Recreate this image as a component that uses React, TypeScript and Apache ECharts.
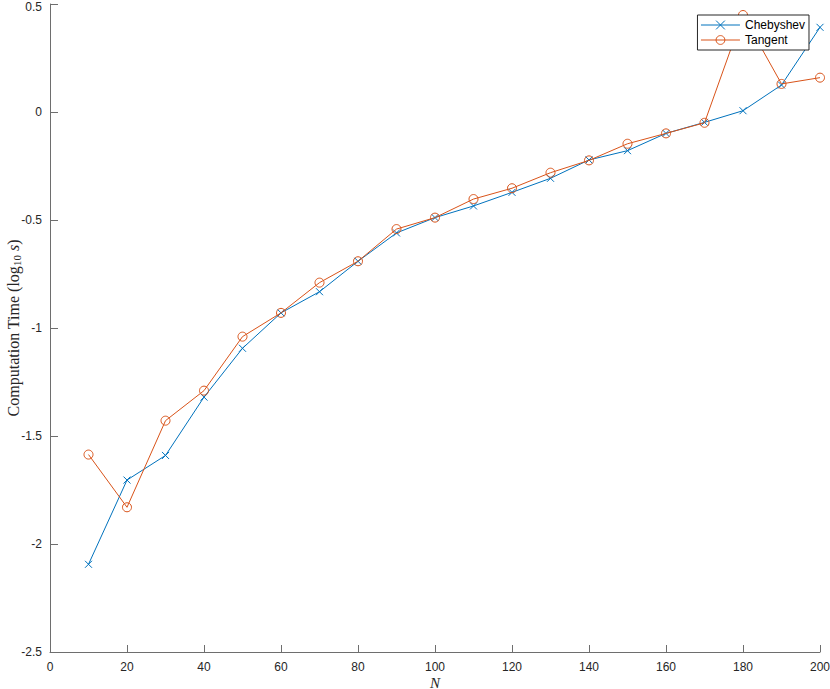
import React, { useEffect, useRef } from "react";
import * as echarts from "echarts";

const nValues = [10, 20, 30, 40, 50, 60, 70, 80, 90, 100, 110, 120, 130, 140, 150, 160, 170, 180, 190, 200];
const chebyshev = [-2.094, -1.704, -1.590, -1.320, -1.094, -0.930, -0.832, -0.691, -0.560, -0.489, -0.435, -0.372, -0.307, -0.222, -0.179, -0.099, -0.048, 0.006, 0.125, 0.392];
const tangent = [-1.586, -1.830, -1.429, -1.290, -1.040, -0.930, -0.790, -0.691, -0.542, -0.489, -0.403, -0.353, -0.281, -0.224, -0.147, -0.099, -0.050, 0.449, 0.130, 0.159];
const seriesNames = ["Chebyshev", "Tangent"];
const seriesColors = ["#0072BD", "#D95319"];
const yMin = -2.5;
const yMax = 0.5;

const X_SYMBOL = "path://M0,0L10,10M10,0L0,10";

export default function App() {
  const ref = useRef<HTMLDivElement>(null);
  useEffect(() => {
    if (!ref.current) return;
    const chart = echarts.init(ref.current, undefined, { renderer: "svg" });
    const axisColor = "#6e6e6e";
    const sans = "'Liberation Sans', Arial, Helvetica, sans-serif";
    const serif = "'Liberation Serif', 'DejaVu Serif', serif";
    const labelStyle = { color: "#262626", fontSize: 12, fontFamily: sans };
    chart.setOption({
      animation: false,
      backgroundColor: "#ffffff",
      grid: { left: 50, right: 10, top: 4, bottom: 37, containLabel: false, outerBoundsMode: "none" },
      legend: {
        orient: "vertical",
        right: 21,
        top: 15,
        data: seriesNames,
        backgroundColor: "#ffffff",
        borderColor: "#262626",
        borderWidth: 1,
        borderRadius: 0,
        padding: [4, 4, 4, 3],
        itemWidth: 39,
        itemHeight: 11,
        itemGap: 3,
        itemStyle: { borderWidth: 1 },
        lineStyle: { width: 1 },
        textStyle: { color: "#000000", fontSize: 12, fontFamily: sans },
      },
      xAxis: {
        type: "value",
        min: 0,
        max: 200,
        interval: 20,
        name: "N",
        nameLocation: "middle",
        nameGap: 23,
        nameMoveOverlap: false,
        nameTextStyle: { fontFamily: serif, fontStyle: "italic", fontSize: 15, color: "#262626" },
        axisLine: { show: true, onZero: false, lineStyle: { color: axisColor, width: 1 } },
        axisTick: { show: true, inside: true, length: 7, lineStyle: { color: axisColor, width: 1 } },
        axisLabel: { ...labelStyle, margin: 9 },
        splitLine: { show: false },
      },
      yAxis: {
        type: "value",
        min: yMin,
        max: yMax,
        interval: 0.5,
        name: "{a|Computation Time (log}{b|10}{i| s}{a|)}",
        nameLocation: "middle",
        nameGap: 28,
        nameMoveOverlap: false,
        nameTextStyle: {
          color: "#262626",
          rich: {
            a: { fontFamily: serif, fontSize: 16, color: "#262626" },
            b: { fontFamily: serif, fontSize: 11, color: "#262626", padding: [7, 0, 0, 0] },
            i: { fontFamily: serif, fontSize: 16, fontStyle: "italic", color: "#262626" },
          },
        },
        axisLine: { show: true, onZero: false, lineStyle: { color: axisColor, width: 1 } },
        axisTick: { show: true, inside: true, length: 8, lineStyle: { color: axisColor, width: 1 } },
        axisLabel: {
          ...labelStyle,
          margin: 8,
          formatter: (v: number) => {
            const s = String(Math.round(v * 10) / 10);
            return Math.abs(v - yMax) < 1e-9 ? "{t|" + s + "}" : s;
          },
          rich: { t: { ...labelStyle, padding: [6, 0, 0, 0] } },
        },
        splitLine: { show: false },
      },
      series: [
        {
          name: seriesNames[0],
          type: "line",
          data: nValues.map((n, i) => [n, chebyshev[i]]),
          symbol: X_SYMBOL,
          symbolSize: 7,
          showAllSymbol: true,
          clip: false,
          lineStyle: { color: seriesColors[0], width: 1 },
          itemStyle: { color: "rgba(0,0,0,0)", borderColor: seriesColors[0], borderWidth: 1 },
          emphasis: { disabled: true },
          z: 2,
        },
        {
          name: seriesNames[1],
          type: "line",
          data: nValues.map((n, i) => [n, tangent[i]]),
          symbol: "circle",
          symbolSize: 9,
          showAllSymbol: true,
          clip: false,
          lineStyle: { color: seriesColors[1], width: 1 },
          itemStyle: { color: "rgba(0,0,0,0)", borderColor: seriesColors[1], borderWidth: 1 },
          emphasis: { disabled: true },
          z: 3,
        },
      ],
    });
    return () => chart.dispose();
  }, []);
  return <div ref={ref} style={{ position: "fixed", left: 0, top: 0, width: 830, height: 689 }} />;
}
